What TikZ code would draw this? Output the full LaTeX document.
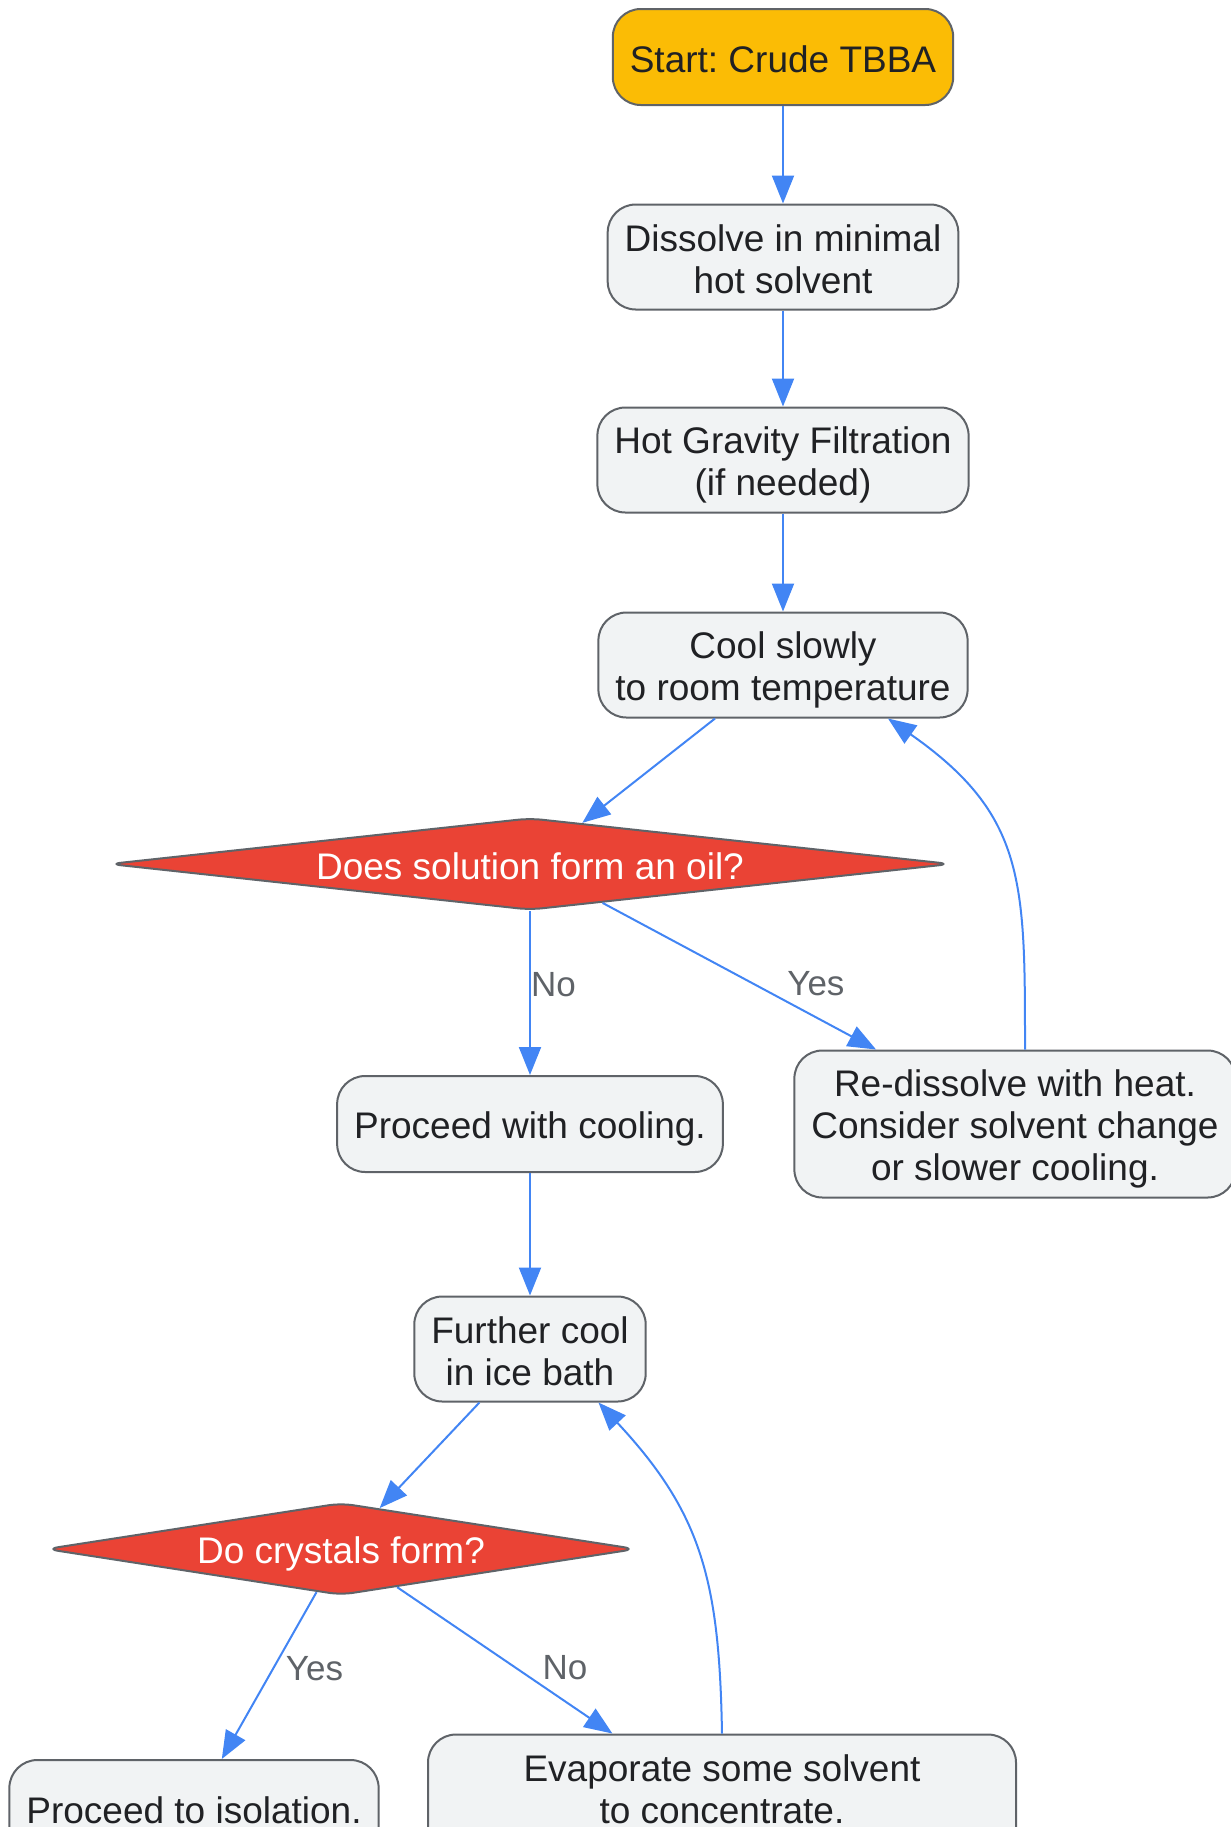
\documentclass[tikz,border=0pt]{standalone}
\usepackage{fontspec}
\setmainfont{Liberation Sans}
\usetikzlibrary{arrows.meta,shapes.geometric}
\definecolor{edgeblue}{HTML}{4285F4}
\definecolor{boxgray}{HTML}{F1F3F4}
\definecolor{linegray}{HTML}{5F6368}
\definecolor{startyellow}{HTML}{FBBC05}
\definecolor{askred}{HTML}{EA4335}
\definecolor{inkdark}{HTML}{202124}
\newcommand{\linestrut}{\rule[-0.13em]{0pt}{1.117em}}
\newcommand{\brk}{\linestrut\\\linestrut}
\frenchspacing
\lineskiplimit=-\maxdimen
\begin{document}
\begin{tikzpicture}[x=0.5pt, y=0.5pt, line join=round,
	font=\fontsize{18.5}{21}\selectfont,
	box/.style={draw=linegray, line width=1pt, fill=boxgray, text=inkdark, rounded corners=14pt, align=center, inner xsep=8.5pt, inner ysep=0pt, minimum height=52.5pt, execute at begin node=\linestrut, execute at end node=\linestrut},
	startbox/.style={box, fill=startyellow, minimum height=48pt},
	ask/.style={diamond, draw=linegray, line width=1pt, fill=askred, text=white, rounded corners=6pt, inner sep=0pt, execute at begin node=\linestrut},
	flow/.style={draw=edgeblue, line width=1pt, -{Triangle[length=14pt,width=11pt]}},
	lbl/.style={text=linegray, font=\fontsize{17.5}{21}\selectfont, inner sep=2pt}]
	\useasboundingbox (0,0) rectangle (1231,-1827);
	% main column
	\node[startbox] (start) at (783,-57) {Start: Crude TBBA};
	\node[box] (dissolve) at (783,-257) {Dissolve in minimal\brk hot solvent};
	\node[box] (filter) at (783,-460) {Hot Gravity Filtration\brk (if needed)};
	\node[box] (cool) at (783,-665) {Cool slowly\brk to room temperature};
	\node[ask, aspect=9, minimum width=421pt, minimum height=46pt] (oil) at (530,-864) {Does solution form an oil?};
	\node[box, minimum height=48pt] (proceed) at (530,-1124) {Proceed with cooling.};
	\node[box, minimum height=73.5pt] (redis) at (1015,-1124) {Re-dissolve with heat.\brk Consider solvent change\brk or slower cooling.};
	\node[box] (ice) at (530,-1349) {Further cool\brk in ice bath};
	\node[ask, aspect=6, minimum width=295pt, minimum height=45pt] (crystals) at (341,-1549) {Do crystals form?};
	\node[box, minimum height=48pt] (isolate) at (194,-1808) {Proceed to isolation.};
	\node[box, minimum width=294pt, minimum height=73.5pt] (evap) at (722,-1808) {Evaporate some solvent\brk to concentrate.\brk\mbox{}};
	% connectors
	\draw[flow] (start) -- (dissolve);
	\draw[flow] (dissolve) -- (filter);
	\draw[flow] (filter) -- (cool);
	\draw[flow] (cool) -- (oil);
	\draw[flow] (oil) -- node[lbl, pos=0.45, anchor=west, inner sep=0pt]{No} (proceed);
	\draw[flow] (oil) -- node[lbl, pos=0.78, above=8pt]{Yes} (redis);
	\draw[flow] ([xshift=5pt]redis.north) to[out=90, in=-35, looseness=1.2] (cool.-27);
	\draw[flow] (proceed) -- (ice);
	\draw[flow] (ice) -- (crystals);
	\draw[flow] (crystals) -- node[lbl, pos=0.46, right=4pt]{Yes} (isolate);
	\draw[flow] (crystals) -- node[lbl, pos=0.78, above=8pt]{No} (evap);
	\draw[flow] (evap.north) to[out=91, in=-47, looseness=1.1] (ice.-38);
\end{tikzpicture}
\end{document}
